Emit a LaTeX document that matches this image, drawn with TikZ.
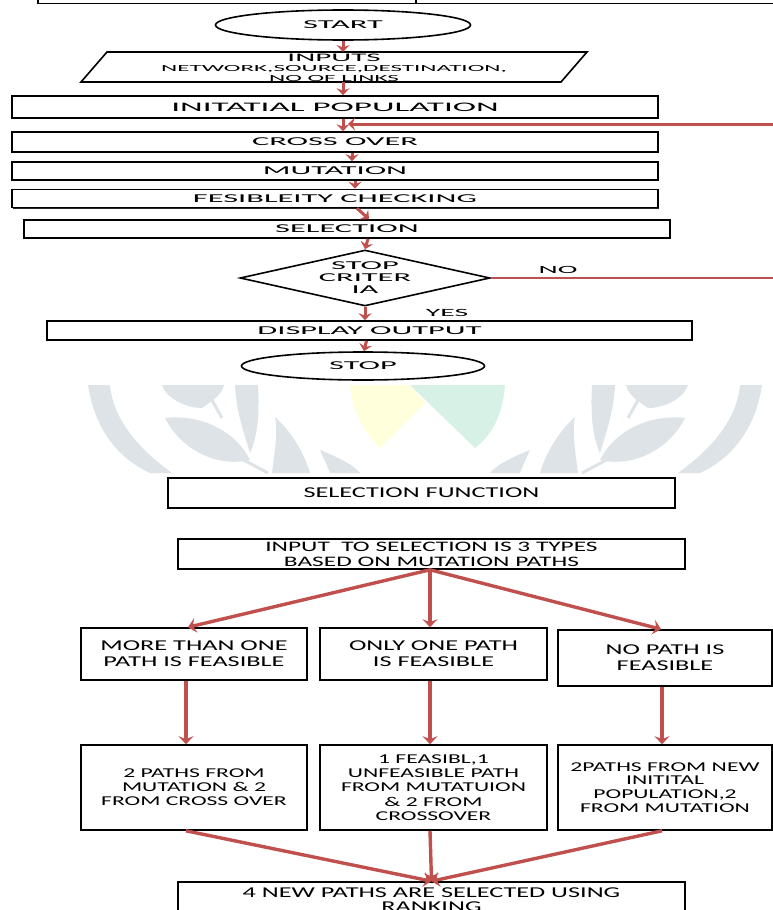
\documentclass[tikz,border=0pt]{standalone}
\usepackage{fontspec}
\usetikzlibrary{shapes.geometric,arrows.meta,shadows}
\newfontfamily\ffa[FakeStretch=2.7]{Carlito}
\newfontfamily\ffb[FakeStretch=1.75]{Carlito}
\definecolor{arrred}{HTML}{C0504D}
\definecolor{wmgray}{HTML}{DDE3E6}
\definecolor{wmyellow}{HTML}{FFFFDC}
\definecolor{wmgreen}{HTML}{D8F1E6}
\begin{document}
\begin{tikzpicture}[x=1pt,y=-1pt,
  outline/.style={draw=black, line width=1.6pt, fill=white, inner sep=0pt, align=center},
  topbox/.style={outline, rectangle, font=\ffa\fontsize{12}{13}\selectfont,
     drop shadow={shadow xshift=1.4pt,shadow yshift=-1.0pt,fill=black,opacity=0.85}},
  botbox/.style={outline, rectangle, font=\ffb\fontsize{15}{16}\selectfont},
  oval/.style={outline, ellipse, font=\ffa\fontsize{12}{13}\selectfont},
  redarrow/.style={draw=arrred, line width=3pt, -{Stealth[length=7pt,width=13pt,inset=2.5pt]}},
  bigarrow/.style={draw=arrred, line width=3.4pt, -{Stealth[length=8pt,width=15pt,inset=3pt]}},
  redline/.style={draw=arrred, line width=2pt},
  tag/.style={font=\ffa\fontsize{11}{12}\selectfont, inner sep=0pt},
  wm/.style={fill=wmgray, draw=none}
]
\useasboundingbox (0,0) rectangle (773,910);

% table fragment at the top
\draw[line width=1.3pt] (38,-2) -- (38,3.5) -- (775,3.5);
\draw[line width=1.3pt] (416,-2) -- (416,3.5);

% watermark
\begin{scope}
\clip (0,385) rectangle (773,473);
\foreach \mirror in {1,-1}{
\begin{scope}[shift={(425,0)}, xscale=\mirror, shift={(-425,0)}]
\fill[wm] (88,385) .. controls (95,430) and (118,458) .. (150,473) -- (172,473) .. controls (140,450) and (113,420) .. (110,385) -- cycle;
\fill[wm] (162,385) .. controls (166,398) and (185,408) .. (202,408) .. controls (214,400) and (222,394) .. (224,385) -- cycle;
\draw[wmgray, line width=3pt] (212,400) -- (222,418);
\fill[wm] (165,418) .. controls (200,414) and (235,430) .. (250,460) .. controls (215,468) and (180,448) .. (165,418) -- cycle;
\fill[wm] (235,385) -- (258,385) .. controls (260,420) and (256,440) .. (250,453) .. controls (243,430) and (236,410) .. (235,385) -- cycle;
\draw[wmgray, line width=3pt] (240,458) -- (268,473);
\fill[wm] (275,417) .. controls (292,432) and (305,455) .. (310,473) -- (272,473) .. controls (275,450) and (278,430) .. (275,417) -- cycle;
\fill[wm] (320,450) .. controls (340,458) and (355,466) .. (360,473) -- (330,473) .. controls (327,465) and (323,457) .. (320,450) -- cycle;
\end{scope}}
\fill[wmyellow] (350,385) -- (410,385) -- (425,403) -- (380,448) .. controls (362,430) and (352,410) .. (350,385) -- cycle;
\fill[wmgreen] (410,385) -- (505,385) .. controls (503,415) and (492,435) .. (475,448) -- cycle;
\end{scope}

% ---------- upper flowchart ----------
\node[oval, minimum width=255pt, minimum height=30pt] (start) at (343,25) {START};
\draw[line width=1.6pt] (81,82) -- (107,52) -- (587,52) -- (561,82) -- cycle;
\node[inner sep=0pt, align=center, font=\ffa\fontsize{11.5}{10}\selectfont] (inputs) at (334,67.5)
  {INPUTS\\{\fontsize{9.3}{9.5}\selectfont NETWORK,SOURCE,DESTINATION,}\\{\fontsize{9.3}{9.5}\selectfont NO OF LINKS}};
\coordinate (inputsbottom) at (343,82);
\coordinate (inputstop) at (343,52);
\node[topbox, minimum width=646pt, minimum height=22pt, font=\ffa\fontsize{13}{14}\selectfont] (init) at (335,107) {INITATIAL POPULATION};
\node[topbox, minimum width=646pt, minimum height=20pt] (cross) at (335,142) {CROSS OVER};
\node[topbox, minimum width=646pt, minimum height=18pt] (mut) at (335,171) {MUTATION};
\node[topbox, minimum width=646pt, minimum height=18pt] (fes) at (335,198.5) {FESIBLEITY CHECKING};
\node[topbox, minimum width=646pt, minimum height=18pt] (sel) at (347,229) {SELECTION};
\node[outline, diamond, aspect=4.5, minimum width=250pt, minimum height=56pt,
      font=\ffa\fontsize{12}{12}\selectfont] (crit) at (365,278) {STOP\\CRITER\\IA};
\node[topbox, minimum width=645pt, minimum height=19pt] (disp) at (369.5,330.5) {DISPLAY OUTPUT};
\node[oval, minimum width=243pt, minimum height=28pt] (stop) at (363,366) {STOP};

\node[tag] (nolab) at (558,270) {NO};
\node[tag] (yeslab) at (447,313) {YES};

\coordinate (noend) at (773,278);
\coordinate (backin) at (773,124);
\coordinate (joinpt) at (348,124);

\draw[redarrow] (start.south) -- (inputstop);
\draw[redarrow] (inputsbottom) -- ([xshift=8pt]init.north);
\draw[redarrow] ([xshift=8pt]init.south) -- ([xshift=8pt]cross.north);
\draw[redarrow] ([xshift=17pt]cross.south) -- ([xshift=17pt]mut.north);
\draw[redarrow] ([xshift=20pt]mut.south) -- ([xshift=20pt]fes.north);
\draw[redarrow] ([xshift=22pt]fes.south) -- ([xshift=22pt]sel.north);
\draw[redarrow] ([xshift=21pt]sel.south) -- (crit.north);
\draw[redarrow] (crit.south) -- ([xshift=-4.5pt]disp.north);
\draw[redarrow] ([xshift=-3pt]disp.south) -- ([xshift=1pt]stop.north);
\draw[redline] (crit.east) -- (noend);
\draw[redarrow] (backin) -- (joinpt);

% ---------- selection function ----------
\node[botbox, minimum width=507pt, minimum height=30pt] (selfun) at (421.5,493) {SELECTION FUNCTION};
\node[botbox, minimum width=507pt, minimum height=30pt, font=\ffb\fontsize{14.5}{15}\selectfont] (insel) at (431.5,554)
  {INPUT\ \ TO SELECTION IS 3 TYPES\\BASED ON MUTATION PATHS};

\node[botbox, minimum width=226pt, minimum height=52pt] (ra) at (194,654) {MORE THAN ONE\\PATH IS FEASIBLE};
\node[botbox, minimum width=227pt, minimum height=52pt] (rb) at (433.5,654) {ONLY ONE PATH\\IS FEASIBLE};
\node[botbox, minimum width=214pt, minimum height=56pt] (rc) at (665,658) {NO PATH IS\\FEASIBLE};

\node[botbox, minimum width=226pt, minimum height=85pt, font=\ffb\fontsize{13.5}{14}\selectfont] (sa) at (194,787.5)
  {2 PATHS FROM\\MUTATION \& 2\\FROM CROSS OVER};
\node[botbox, minimum width=227pt, minimum height=85pt, font=\ffb\fontsize{13.5}{14.3}\selectfont] (sb) at (433.5,787.5)
  {1 FEASIBL,1\\UNFEASIBLE PATH\\FROM MUTATUION\\\& 2 FROM\\CROSSOVER};
\node[botbox, minimum width=214pt, minimum height=85pt, font=\ffb\fontsize{13.5}{13.8}\selectfont] (sc) at (665,787.5)
  {2PATHS FROM NEW\\INITITAL\\POPULATION,2\\FROM MUTATION};

\node[botbox, minimum width=507pt, minimum height=36pt, font=\ffb\fontsize{15}{14}\selectfont] (fin) at (431.5,900)
  {4 NEW PATHS ARE SELECTED USING\\RANKING};

\draw[bigarrow] ([xshift=-1.5pt]insel.south) -- ([xshift=-6pt]ra.north);
\draw[bigarrow] ([xshift=-1.5pt]insel.south) -- ([xshift=-3.5pt]rb.north);
\draw[bigarrow] ([xshift=-1.5pt]insel.south) -- ([xshift=-4pt]rc.north);
\draw[bigarrow] ([xshift=-8pt]ra.south) -- ([xshift=-8pt]sa.north);
\draw[bigarrow] ([xshift=-3.5pt]rb.south) -- ([xshift=-3.5pt]sb.north);
\draw[bigarrow] ([xshift=-3pt]rc.south) -- ([xshift=-3pt]sc.north);
\draw[bigarrow] ([xshift=-8pt]sa.south) -- (fin.north);
\draw[bigarrow] ([xshift=-3.5pt]sb.south) -- (fin.north);
\draw[bigarrow] ([xshift=-3pt]sc.south) -- (fin.north);
\end{tikzpicture}
\end{document}
